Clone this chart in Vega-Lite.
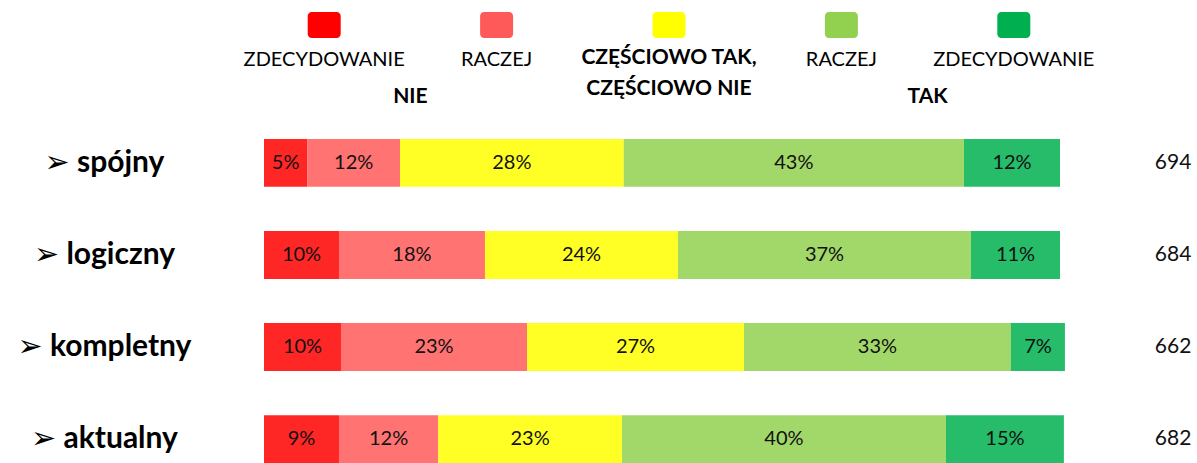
{
  "$schema": "https://vega.github.io/schema/vega-lite/v6.json",
  "padding": {"left": 17, "top": 12, "right": 0, "bottom": 0},
  "bounds": "flush",
  "spacing": 101,
  "config": {"view": {"stroke": null}, "font": "Lato"},
  "datasets": {
    "wyniki": [
      {"kategoria": "spójny", "odp": "zdecydowanie nie", "kolejnosc": 1, "wartosc": 5.44, "etykieta": "5%"},
      {"kategoria": "spójny", "odp": "raczej nie", "kolejnosc": 2, "wartosc": 11.65, "etykieta": "12%"},
      {"kategoria": "spójny", "odp": "częściowo tak, częściowo nie", "kolejnosc": 3, "wartosc": 28.10, "etykieta": "28%"},
      {"kategoria": "spójny", "odp": "raczej tak", "kolejnosc": 4, "wartosc": 42.75, "etykieta": "43%"},
      {"kategoria": "spójny", "odp": "zdecydowanie tak", "kolejnosc": 5, "wartosc": 12.06, "etykieta": "12%"},
      {"kategoria": "logiczny", "odp": "zdecydowanie nie", "kolejnosc": 1, "wartosc": 9.42, "etykieta": "10%"},
      {"kategoria": "logiczny", "odp": "raczej nie", "kolejnosc": 2, "wartosc": 18.34, "etykieta": "18%"},
      {"kategoria": "logiczny", "odp": "częściowo tak, częściowo nie", "kolejnosc": 3, "wartosc": 24.25, "etykieta": "24%"},
      {"kategoria": "logiczny", "odp": "raczej tak", "kolejnosc": 4, "wartosc": 36.81, "etykieta": "37%"},
      {"kategoria": "logiczny", "odp": "zdecydowanie tak", "kolejnosc": 5, "wartosc": 11.18, "etykieta": "11%"},
      {"kategoria": "kompletny", "odp": "zdecydowanie nie", "kolejnosc": 1, "wartosc": 9.67, "etykieta": "10%"},
      {"kategoria": "kompletny", "odp": "raczej nie", "kolejnosc": 2, "wartosc": 23.37, "etykieta": "23%"},
      {"kategoria": "kompletny", "odp": "częściowo tak, częściowo nie", "kolejnosc": 3, "wartosc": 27.26, "etykieta": "27%"},
      {"kategoria": "kompletny", "odp": "raczej tak", "kolejnosc": 4, "wartosc": 33.54, "etykieta": "33%"},
      {"kategoria": "kompletny", "odp": "zdecydowanie tak", "kolejnosc": 5, "wartosc": 6.78, "etykieta": "7%"},
      {"kategoria": "aktualny", "odp": "zdecydowanie nie", "kolejnosc": 1, "wartosc": 9.42, "etykieta": "9%"},
      {"kategoria": "aktualny", "odp": "raczej nie", "kolejnosc": 2, "wartosc": 12.47, "etykieta": "12%"},
      {"kategoria": "aktualny", "odp": "częściowo tak, częściowo nie", "kolejnosc": 3, "wartosc": 23.08, "etykieta": "23%"},
      {"kategoria": "aktualny", "odp": "raczej tak", "kolejnosc": 4, "wartosc": 40.70, "etykieta": "40%"},
      {"kategoria": "aktualny", "odp": "zdecydowanie tak", "kolejnosc": 5, "wartosc": 14.82, "etykieta": "15%"}
    ],
    "liczebnosc": [
      {"kategoria": "spójny", "n": 694},
      {"kategoria": "logiczny", "n": 684},
      {"kategoria": "kompletny", "n": 662},
      {"kategoria": "aktualny", "n": 682}
    ],
    "legenda": [
      {"odp": "zdecydowanie nie", "etykieta": "ZDECYDOWANIE"},
      {"odp": "raczej nie", "etykieta": "RACZEJ"},
      {"odp": "częściowo tak, częściowo nie", "etykieta": "CZĘŚCIOWO TAK,\nCZĘŚCIOWO NIE"},
      {"odp": "raczej tak", "etykieta": "RACZEJ"},
      {"odp": "zdecydowanie tak", "etykieta": "ZDECYDOWANIE"}
    ],
    "grupy": [
      {"odp": "zdecydowanie nie", "grupa": "NIE"},
      {"odp": "raczej tak", "grupa": "TAK"}
    ]
  },
  "vconcat": [
    {
      "width": 809,
      "height": 26,
      "data": {"name": "legenda"},
      "encoding": {
        "x": {
          "field": "odp", "type": "nominal",
          "sort": ["zdecydowanie nie", "raczej nie", "częściowo tak, częściowo nie", "raczej tak", "zdecydowanie tak"],
          "scale": {"range": [-26, 836], "paddingInner": 0, "paddingOuter": 0},
          "axis": null
        }
      },
      "layer": [
        {
          "mark": {"type": "bar", "width": 33, "cornerRadius": 4},
          "encoding": {
            "color": {
              "field": "odp", "type": "nominal",
              "scale": {
                "domain": ["zdecydowanie nie", "raczej nie", "częściowo tak, częściowo nie", "raczej tak", "zdecydowanie tak"],
                "range": ["#FF0000", "#FF5A5A", "#FFFF00", "#92D050", "#00B050"]
              },
              "legend": null
            }
          }
        },
        {
          "transform": [{"filter": "datum.odp != 'częściowo tak, częściowo nie'"}],
          "mark": {"type": "text", "dy": 35, "font": "Lato", "fontSize": 20, "color": "#000", "baseline": "middle"},
          "encoding": {"text": {"field": "etykieta"}}
        },
        {
          "transform": [{"filter": "datum.odp == 'częściowo tak, częściowo nie'"}],
          "mark": {"type": "text", "dy": 33, "font": "Lato", "fontSize": 21, "fontWeight": "bold", "color": "#000", "baseline": "middle", "lineBreak": "\n", "lineHeight": 31},
          "encoding": {"text": {"field": "etykieta"}}
        },
        {
          "data": {"name": "grupy"},
          "mark": {"type": "text", "dy": 72, "font": "Lato", "fontSize": 21, "fontWeight": "bold", "color": "#000", "baseline": "middle"},
          "encoding": {
            "x": {"field": "odp", "type": "nominal", "bandPosition": 1},
            "text": {"field": "grupa"}
          }
        }
      ]
    },
    {
      "width": 796,
      "height": 324,
      "encoding": {
        "y": {
          "field": "kategoria", "type": "nominal",
          "sort": ["spójny", "logiczny", "kompletny", "aktualny"],
          "scale": {"paddingInner": 0.48, "paddingOuter": 0},
          "axis": {
            "title": null, "domain": false, "ticks": false, "tickSize": 0, "grid": false,
            "labelPadding": 160, "labelAlign": "center", "labelBaseline": "middle",
            "labelFont": "Lato, DejaVu Sans", "labelFontWeight": "bold", "labelFontSize": 30, "labelColor": "#000",
            "labelExpr": "'➢ ' + datum.label"
          }
        }
      },
      "layer": [
        {
          "data": {"name": "wyniki"},
          "transform": [
            {"stack": "wartosc", "groupby": ["kategoria"], "sort": [{"field": "kolejnosc"}], "as": ["x0", "x1"]},
            {"calculate": "(datum.x0 + datum.x1) / 2", "as": "xm"}
          ],
          "layer": [
            {
              "mark": {"type": "bar", "opacity": 0.85},
              "encoding": {
                "x": {"field": "x0", "type": "quantitative", "scale": {"domain": [0, 100]}, "axis": null},
                "x2": {"field": "x1"},
                "color": {
                  "field": "odp", "type": "nominal",
                  "scale": {
                    "domain": ["zdecydowanie nie", "raczej nie", "częściowo tak, częściowo nie", "raczej tak", "zdecydowanie tak"],
                    "range": ["#FF0000", "#FF5A5A", "#FFFF00", "#92D050", "#00B050"]
                  },
                  "legend": null
                }
              }
            },
            {
              "mark": {"type": "text", "font": "Lato", "fontSize": 20, "color": "#111", "baseline": "middle", "align": "center"},
              "encoding": {
                "x": {"field": "xm", "type": "quantitative"},
                "text": {"field": "etykieta"}
              }
            }
          ]
        },
        {
          "data": {"name": "liczebnosc"},
          "mark": {"type": "text", "font": "Lato", "fontSize": 21, "color": "#111", "baseline": "middle", "align": "center"},
          "encoding": {
            "x": {"datum": 114.2, "type": "quantitative"},
            "text": {"field": "n"}
          }
        }
      ]
    }
  ]
}
